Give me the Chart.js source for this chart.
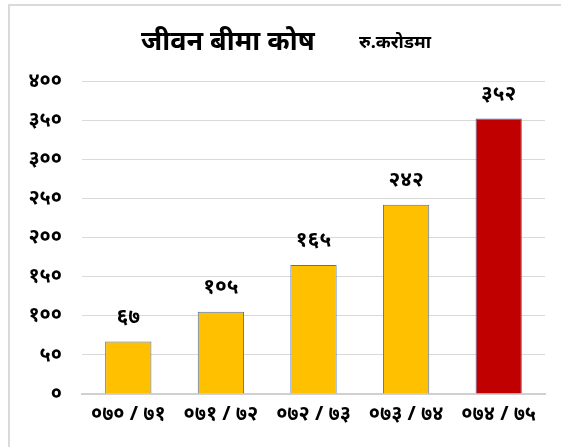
<!DOCTYPE html>
<html>
<head>
<meta charset="utf-8">
<script src="https://cdn.jsdelivr.net/npm/chart.js@4.4.1/dist/chart.umd.min.js"></script>
<style>
  html, body { margin: 0; padding: 0; background: #fff; }
  #wrap { position: absolute; left: 0; top: 0; width: 561px; height: 447px; }
  #frame { position: absolute; left: 8px; top: 4px; width: 560px; height: 450px;
           border-top: 2px solid #dadada; border-left: 2px solid #dadada; }
</style>
</head>
<body>
<div id="wrap">
  <div id="frame"></div>
  <canvas id="fundChart" width="561" height="447"></canvas>
</div>
<script>
// जीवन बीमा कोष (रु. करोडमा)
const years = ["070/71", "071/72", "072/73", "073/74", "074/75"];
const fundValues = [67, 105, 165, 242, 352];
const barColors = ["#ffc000", "#ffc000", "#ffc000", "#ffc000", "#c00000"];
const yTicks = [0, 50, 100, 150, 200, 250, 300, 350, 400];

const titleText = "जीवन बीमा कोष";
const unitText = "रु.करोडमा";
const fontFamily = "'Noto Sans', 'DejaVu Sans', sans-serif";

function toNepaliDigits(value) {
  const digits = "०१२३४५६७८९";
  return String(value).replace(/[0-9]/g, (d) => digits[Number(d)]);
}

// draws title and the value labels above each bar
const labelPlugin = {
  id: "labelPlugin",
  afterDraw(chart) {
    const ctx = chart.ctx;
    ctx.save();
    ctx.fillStyle = "#000";
    ctx.textBaseline = "alphabetic";
    ctx.textAlign = "left";
    ctx.font = "bold 27px " + fontFamily;
    ctx.fillText(titleText, 141, 50);
    ctx.font = "bold 18px " + fontFamily;
    ctx.fillText(unitText, 359, 48);

    ctx.textAlign = "center";
    ctx.textBaseline = "middle";
    ctx.font = "bold 21px " + fontFamily;
    const meta = chart.getDatasetMeta(0);
    meta.data.forEach((bar, i) => {
      ctx.fillText(toNepaliDigits(fundValues[i]), bar.x, bar.y - 25);
    });
    ctx.restore();
  },
};

const ctx = document.getElementById("fundChart").getContext("2d");

new Chart(ctx, {
  type: "bar",
  data: {
    labels: years,
    datasets: [
      {
        data: fundValues,
        backgroundColor: barColors,
        borderColor: "#4472c4",
        borderWidth: 1,
        barPercentage: 0.5,
        categoryPercentage: 1,
      },
    ],
  },
  options: {
    responsive: false,
    animation: false,
    layout: {
      padding: { top: 81, left: 0, right: 16, bottom: 0 },
    },
    plugins: {
      legend: { display: false },
      tooltip: { enabled: false },
    },
    scales: {
      x: {
        grid: { display: false, drawTicks: false },
        border: { display: true, color: "#d0d0d0", width: 2 },
        ticks: {
          padding: 8,
          color: "#000",
          font: { family: fontFamily, size: 20, weight: "bold" },
          callback: function (value, index) {
            return toNepaliDigits(years[index]).replace("/", " / ");
          },
        },
        afterFit: function (scale) {
          scale.height = 53;
        },
      },
      y: {
        min: 0,
        max: 400,
        grid: { color: "#d9d9d9", lineWidth: 1, drawTicks: false },
        border: { display: false },
        afterBuildTicks: function (scale) {
          scale.ticks = yTicks.map((v) => ({ value: v }));
        },
        ticks: {
          padding: 20,
          color: "#000",
          font: { family: fontFamily, size: 20, weight: "bold" },
          callback: function (value) {
            return toNepaliDigits(value);
          },
        },
        afterFit: function (scale) {
          scale.width = 82;
        },
      },
    },
  },
  plugins: [labelPlugin],
});
</script>
</body>
</html>
